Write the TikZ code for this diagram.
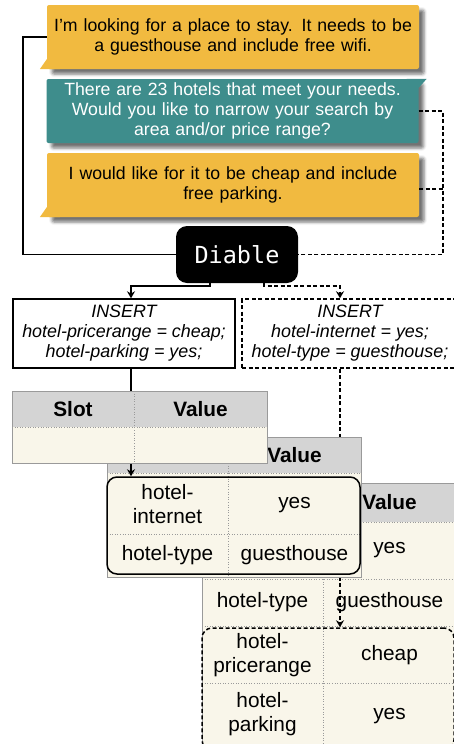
\documentclass[tikz,border=0pt]{standalone}
\usepackage{fontspec}
\setmainfont{Liberation Sans}
\newfontfamily\monofont{DejaVu Sans Mono}
\usetikzlibrary{arrows.meta,shadows.blur}
\definecolor{bubbleyellow}{HTML}{F1BA40}
\definecolor{bubbleteal}{HTML}{3E8D8C}
\definecolor{hdrgray}{HTML}{D4D4D4}
\definecolor{cellcream}{HTML}{F9F6EA}
\definecolor{gridgray}{HTML}{9A9A9A}
\tikzset{
  bubble/.style={minimum width=372pt, minimum height=64pt, inner sep=0pt,
    text width=368pt, align=center, font=\fontsize{17.7}{20}\selectfont,
    rounded corners=2pt,
    blur shadow={shadow xshift=5pt, shadow yshift=-5pt, shadow blur radius=3pt, shadow opacity=55}},
  conn/.style={line width=1.5pt},
  dashline/.style={line width=1.5pt, dash pattern=on 4pt off 2.5pt},
  tip/.style={-{Stealth[length=7pt,width=8pt]}},
  insertbox/.style={line width=1.5pt, minimum height=69pt, inner sep=0pt, align=center,
    font=\itshape\fontsize{17.9}{20}\selectfont},
  tblborder/.style={draw=gridgray, line width=0.7pt},
  tblgrid/.style={draw=gridgray, dotted, line width=0.6pt},
  celltext/.style={font=\fontsize{20.8}{24}\selectfont, align=center, inner sep=0pt},
  hdrtext/.style={font=\bfseries\fontsize{20.8}{24}\selectfont, inner sep=0pt},
  rowbox/.style={line width=1.5pt, rounded corners=10pt, inner sep=0pt}
}
\begin{document}
\begin{tikzpicture}[x=1pt,y=-1pt]
\useasboundingbox (0,0) rectangle (454,744);

% chat bubbles
\node[bubble, fill=bubbleyellow] (b1) at (233,37) {I’m looking for a place to stay. It needs to be\\a guesthouse and include free wifi.};
\fill[bubbleyellow] (b1.south west) ++(0,-10) -- ++(-7,10) -- ++(20,0) -- cycle;
\node[bubble, fill=bubbleteal, text=white] (b2) at (232.5,111) {There are 23 hotels that meet your needs.\\Would you like to narrow your search by\\area and/or price range?};
\fill[bubbleteal] (b2.north east) ++(0,9) -- ++(8,-9) -- ++(-20,0) -- cycle;
\node[bubble, fill=bubbleyellow] (b3) at (233,185) {I would like for it to be cheap and include\\free parking.};
\fill[bubbleyellow] (b3.south west) ++(0,-10) -- ++(-7,10) -- ++(20,0) -- cycle;

% Diable
\node[fill=black, text=white, rounded corners=11pt, minimum width=122pt, minimum height=57pt,
  inner sep=0pt, font=\monofont\fontsize{23.5}{23.5}\selectfont] (dia) at (237,254.5) {Diable};

\coordinate (rj) at (443,111);
\draw[conn] (b1.west) -- ++(-24,0) |- (dia.west);
\draw[dashline] (b2.east) -- (rj) |- (dia.east);
\draw[dashline] ([yshift=-4pt]b3.east) -- ++(24,0);

% insert boxes
\node[insertbox, draw, minimum width=222pt] (ins1) at (124,333.5) {INSERT\\hotel-pricerange = cheap;\\hotel-parking = yes;};
\node[insertbox, draw, dash pattern=on 4pt off 2.5pt, minimum width=216pt] (ins2) at (350,333.5) {INSERT\\hotel-internet = yes;\\hotel-type = guesthouse;};

\draw[conn, tip] ([xshift=-27pt]dia.south) -- ++(0,3) -| ([xshift=7pt]ins1.north);
\draw[dashline, tip] ([xshift=27pt]dia.south) -- ++(0,3) -| ([xshift=-10pt]ins2.north);

% table 3
\fill[cellcream] (202,483) rectangle (456,760);
\fill[hdrgray] (202,483) rectangle (456,522);
\draw[tblgrid] (202,522) -- (456,522) (202,579) -- (456,579) (202,626) -- (456,626) (202,683) -- (456,683) (323,483) -- (323,760);
\draw[tblborder] (202,483) rectangle (456,760);
\node[hdrtext] (t3val) at (389.5,502.5) {Value};
\node[celltext] (t3r1v) at (389.5,550.5) {yes};
\node[celltext] (t3r2s) at (262.5,602.5) {hotel-type};
\node[celltext] (t3r2v) at (389.5,602.5) {guesthouse};
\node[celltext] (t3r3s) at (262.5,655) {hotel-\\pricerange};
\node[celltext] (t3r3v) at (389.5,655) {cheap};
\node[celltext] (t3r4s) at (262.5,714.5) {hotel-\\parking};
\node[celltext] (t3r4v) at (389.5,716) {yes};
\node[rowbox, draw, dash pattern=on 4pt off 2.5pt, minimum width=252pt, minimum height=122pt] (rb3) at (328,689) {};

\draw[dashline, tip] ([xshift=-10pt]ins2.south) -- ([xshift=-10pt]ins2.south |- rb3.north);

% table 2
\fill[cellcream] (107,437) rectangle (361,577);
\fill[hdrgray] (107,437) rectangle (361,473);
\draw[tblgrid] (107,473) -- (361,473) (107,534) -- (361,534) (228,437) -- (228,577);
\draw[tblborder] (107,437) rectangle (361,577);
\node[hdrtext] (t2val) at (294.5,455) {Value};
\node[celltext] (t2r1s) at (167.5,504) {hotel-\\internet};
\node[celltext] (t2r1v) at (294.5,505) {yes};
\node[celltext] (t2r2s) at (167.5,555.5) {hotel-type};
\node[celltext] (t2r2v) at (294.5,555.5) {guesthouse};
\node[rowbox, draw, minimum width=253pt, minimum height=97pt] (rb2) at (233.5,525.5) {};

\draw[conn, tip] ([xshift=7pt]ins1.south) -- ([xshift=7pt]ins1.south |- rb2.north);

% table 1
\fill[cellcream] (12,391) rectangle (267,463);
\fill[hdrgray] (12,391) rectangle (267,427);
\draw[tblgrid] (12,427) -- (267,427) (134,391) -- (134,463);
\draw[tblborder] (12,391) rectangle (267,463);
\node[hdrtext] (t1slot) at (73,409) {Slot};
\node[hdrtext] (t1val) at (200.5,409) {Value};
\end{tikzpicture}
\end{document}
